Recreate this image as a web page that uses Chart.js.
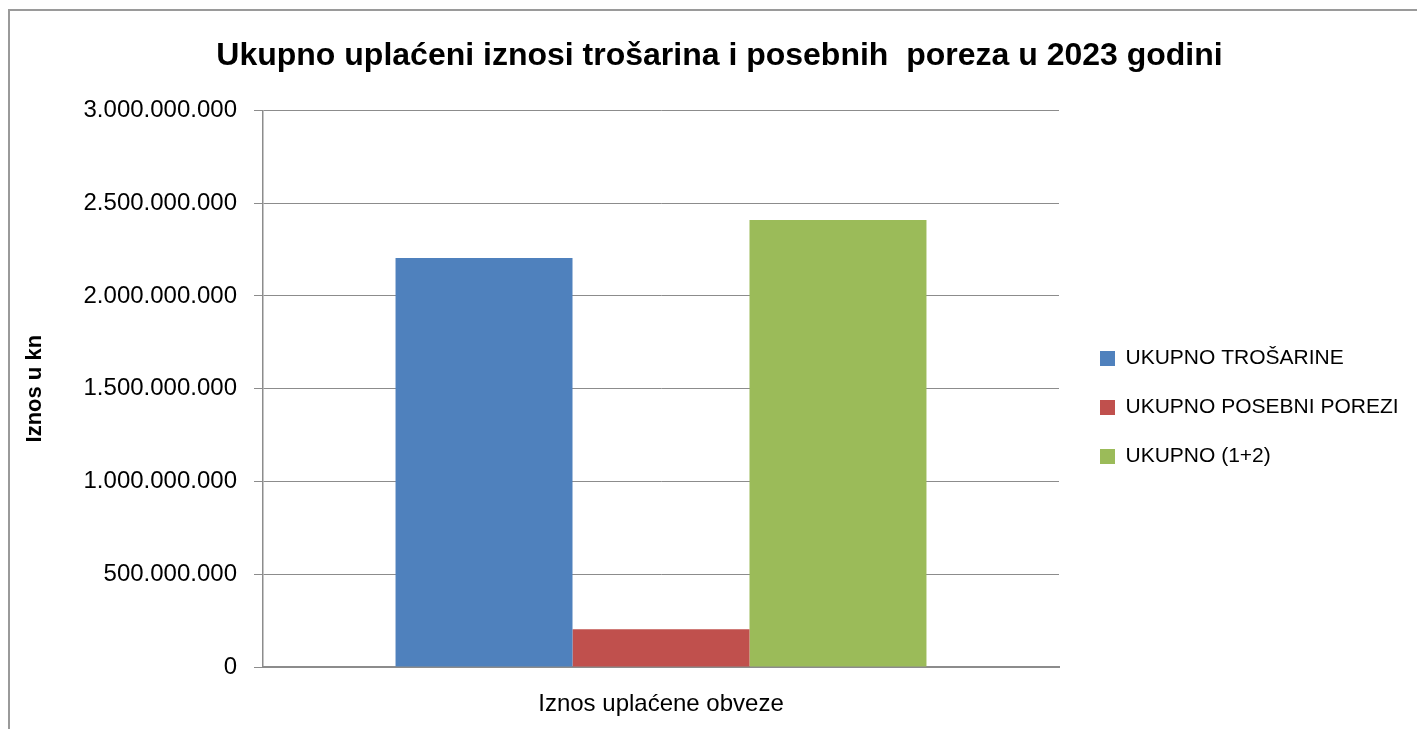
<!DOCTYPE html>
<html>
<head>
<meta charset="utf-8">
<script src="https://cdn.jsdelivr.net/npm/chart.js@4.4.1/dist/chart.umd.min.js"></script>
<style>
    html, body { margin: 0; padding: 0; background: #fff; overflow: hidden; }
    #wrap { position: relative; width: 1417px; height: 729px; }
    #frame {
        position: absolute; left: 8px; top: 9px; width: 1420px; height: 740px;
        border: 2px solid #9a9a9a;
    }
    #chart { position: absolute; left: 0; top: 0; }
</style>
</head>
<body>
<div id="wrap">
    <div id="frame"></div>
    <canvas id="chart" width="1417" height="729"></canvas>
</div>
<script>
// 数据
const categories = ['Iznos uplaćene obveze'];
const seriesNames = ['UKUPNO TROŠARINE', 'UKUPNO POSEBNI POREZI', 'UKUPNO (1+2)'];
const trosarine = [2205000000];
const posebniPorezi = [204000000];
const ukupno = [2409000000];
const yTicks = [0, 500000000, 1000000000, 1500000000, 2000000000, 2500000000, 3000000000];

const seriesColors = ['#4F81BD', '#C0504D', '#9BBB59'];
const FONT = '"Liberation Sans", Arial, sans-serif';
const gridGray = '#8c8c8c';

// 千位分隔符用点
const fmt = v => String(v).replace(/\B(?=(\d{3})+(?!\d))/g, '.');

// 图例位置微调
const legendPlacer = {
    id: 'legendPlacer',
    beforeInit(chart) {
        const lg = chart.legend;
        const origFit = lg.fit;
        lg.fit = function () {
            origFit.call(this);
            this.width = 358;
        };
    },
    afterLayout(chart) {
        const lg = chart.legend;
        const w = lg.right - lg.left, h = lg.bottom - lg.top;
        lg.left = 1072; lg.right = lg.left + w;
        lg.top = 320; lg.bottom = lg.top + h;
    }
};

const ctx = document.getElementById('chart').getContext('2d');
new Chart(ctx, {
    type: 'bar',
    data: {
        labels: categories,
        datasets: [
            { label: seriesNames[0], data: trosarine, backgroundColor: seriesColors[0] },
            { label: seriesNames[1], data: posebniPorezi, backgroundColor: seriesColors[1] },
            { label: seriesNames[2], data: ukupno, backgroundColor: seriesColors[2] }
        ]
    },
    options: {
        responsive: false,
        animation: false,
        datasets: { bar: { categoryPercentage: 0.667, barPercentage: 1.0 } },
        layout: { padding: { left: 22, right: 0, top: 0, bottom: 0 } },
        scales: {
            x: {
                grid: { display: false, drawTicks: false },
                border: { display: true, color: gridGray, width: 2 },
                ticks: { color: '#000', font: { family: FONT, size: 24 }, padding: 23 },
                afterFit: s => { s.height = 62; }
            },
            y: {
                min: 0,
                max: 3000000000,
                afterBuildTicks: s => { s.ticks = yTicks.map(v => ({ value: v })); },
                grid: { color: gridGray, lineWidth: 1, tickLength: 9, drawTicks: true },
                border: { display: true, color: gridGray, width: 1.5 },
                ticks: { color: '#000', font: { family: FONT, size: 24 }, padding: 17, callback: v => fmt(v) },
                title: {
                    display: true, text: 'Iznos u kn', color: '#000',
                    font: { family: FONT, size: 22, weight: 'bold' },
                    padding: { top: 0, bottom: 0 }
                },
                afterFit: s => { s.width = 241; }
            }
        },
        plugins: {
            title: {
                display: true,
                text: 'Ukupno uplaćeni iznosi trošarina i posebnih  poreza u 2023 godini',
                color: '#000',
                font: { family: FONT, size: 32, weight: 'bold' },
                padding: { top: 37, bottom: 35 }
            },
            legend: {
                position: 'right',
                align: 'start',
                labels: {
                    color: '#000',
                    font: { family: FONT, size: 21 },
                    boxWidth: 15,
                    boxHeight: 15,
                    padding: 28
                }
            },
            tooltip: { enabled: false }
        }
    },
    plugins: [legendPlacer]
});
</script>
</body>
</html>
